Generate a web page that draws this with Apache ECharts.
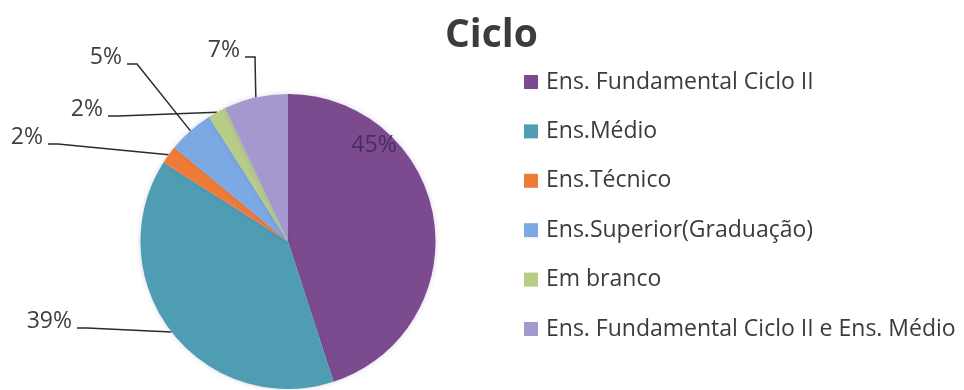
<!DOCTYPE html>
<html>
<head>
<meta charset="utf-8">
<script src="https://cdn.jsdelivr.net/npm/echarts@6/dist/echarts.min.js"></script>
<style>
  html, body { margin: 0; padding: 0; background: #ffffff; }
  #chart { width: 964px; height: 390px; }
</style>
</head>
<body>
<div id="chart"></div>
<script>
// Categories and their shares (percent)
const categories = [
  'Ens. Fundamental Ciclo II',
  'Ens.Médio',
  'Ens.Técnico',
  'Ens.Superior(Graduação)',
  'Em branco',
  'Ens. Fundamental Ciclo II e Ens. Médio'
];
const shares = [45, 39, 2, 5, 2, 7];
const sliceColors = ['#7B4A8F', '#4F9DB3', '#F07B38', '#7BA9E3', '#B7CC86', '#A598CF'];

// Label placement: [x, y, align] for each slice's percentage text
const labelSpots = [
  [374, 145, 'center'],
  [72, 321, 'right'],
  [43, 137, 'right'],
  [122, 57, 'right'],
  [103, 109, 'right'],
  [240, 50, 'right']
];

const FONT = '"Open Sans", Lato, sans-serif';

const chart = echarts.init(document.getElementById('chart'), null, { renderer: 'canvas' });

const pieData = categories.map((name, i) => {
  const item = { name: name, value: shares[i], itemStyle: { color: sliceColors[i] } };
  if (i === 0) {
    item.label = { color: '#4A2C5E' };
    item.labelLine = { show: false };
  }
  return item;
});

chart.setOption({
  animation: false,
  backgroundColor: '#ffffff',
  title: {
    text: 'Ciclo',
    left: 445,
    top: 16,
    padding: 0,
    textStyle: { fontFamily: FONT, fontSize: 39, fontWeight: 'bold', color: '#3C3C3C' }
  },
  legend: {
    orient: 'vertical',
    left: 524,
    top: 70,
    padding: 0,
    icon: 'rect',
    itemWidth: 14,
    itemHeight: 14,
    itemGap: 25.4,
    selectedMode: false,
    data: categories,
    textStyle: {
      fontFamily: FONT,
      fontSize: 23,
      lineHeight: 24,
      color: '#3B3B3B',
      padding: [0, 0, 0, 3]
    }
  },
  series: [{
    type: 'pie',
    center: [288, 241.5],
    radius: 147.5,
    startAngle: 90,
    clockwise: true,
    avoidLabelOverlap: false,
    itemStyle: {
      borderWidth: 0,
      shadowBlur: 5,
      shadowColor: 'rgba(90, 90, 160, 0.25)'
    },
    label: {
      show: true,
      position: 'outside',
      formatter: '{c}%',
      fontFamily: FONT,
      fontSize: 23,
      color: '#3E3E3E'
    },
    labelLine: {
      show: true,
      lineStyle: { color: '#2B2B2B', width: 1.5 }
    },
    labelLayout: function (p) {
      const s = labelSpots[p.dataIndex];
      const out = { x: s[0], y: s[1], align: s[2], verticalAlign: 'middle' };
      if (p.dataIndex > 0 && p.labelLinePoints) {
        const anchor = p.labelLinePoints[0];
        const ly = s[1] + 7;
        out.labelLinePoints = [anchor, [s[0] + 15, ly], [s[0] + 5, ly]];
      }
      return out;
    },
    data: pieData
  }]
});
</script>
</body>
</html>
